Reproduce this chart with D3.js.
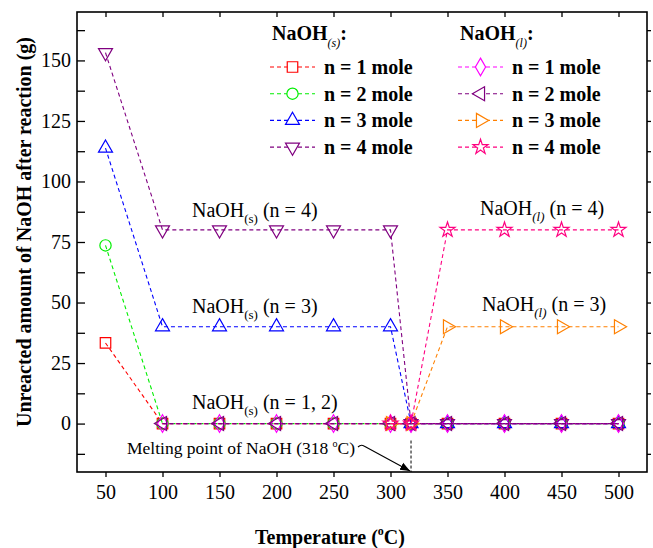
<!DOCTYPE html>
<html>
<head>
<meta charset="utf-8">
<script src="https://cdn.jsdelivr.net/npm/d3@7"></script>
<style>
  body { margin: 0; background: #fff; }
  svg text { font-family: "Liberation Serif", "Times New Roman", serif; }
</style>
</head>
<body>
<svg id="chart" width="653" height="548"></svg>
<script>
const temps = [50, 100, 150, 200, 250, 300, 318, 350, 400, 450, 500];

const solid1 = [33.3, 0, 0, 0, 0, 0, 0, 0, 0, 0, 0];
const solid2 = [73.6, 0, 0, 0, 0, 0, 0, 0, 0, 0, 0];
const solid3 = [113.8, 40, 40, 40, 40, 40, 0, 0, 0, 0, 0];
const solid4 = [153.2, 80, 80, 80, 80, 80, 0, 0, 0, 0, 0];
const liquid1 = [null, 0, 0, 0, 0, 0, 0, 0, 0, 0, 0];
const liquid2 = [null, 0, 0, 0, 0, 0, 0, 0, 0, 0, 0];
const liquid3 = [null, null, null, null, null, 0, 0, 40, 40, 40, 40];
const liquid4 = [null, null, null, null, null, 0, 0, 80, 80, 80, 80];

const legendLabels = ["n = 1 mole", "n = 2 mole", "n = 3 mole", "n = 4 mole"];
const xTicks = [50, 100, 150, 200, 250, 300, 350, 400, 450, 500];
const yTicks = [-12.5, 0, 12.5, 25, 37.5, 50, 62.5, 75, 87.5, 100, 112.5, 125, 137.5, 150, 162.5];
const meltingPoint = 318;

const series = [
  {values: solid1,  color: "#ff0000", shape: d3.symbolSquare,   size: 110, rot: 0},
  {values: solid2,  color: "#00ee00", shape: d3.symbolCircle,   size: 100, rot: 0},
  {values: solid3,  color: "#0000ff", shape: d3.symbolTriangle, size: 85,  rot: 0},
  {values: solid4,  color: "#800080", shape: d3.symbolTriangle, size: 85,  rot: 180},
  {values: liquid1, color: "#ff00ff", shape: d3.symbolDiamond,  size: 90,  rot: 0},
  {values: liquid2, color: "#800080", shape: d3.symbolTriangle, size: 85,  rot: -90},
  {values: liquid3, color: "#ff8000", shape: d3.symbolTriangle, size: 85,  rot: 90},
  {values: liquid4, color: "#ff0080", shape: d3.symbolStar,     size: 70,  rot: 0}
];

const margin = {left: 77, top: 12, right: 6, bottom: 76};
const W = 653, H = 548;

const svg = d3.select("#chart");

let x = d3.scaleLinear().domain([25, 525]).range([margin.left, W - margin.right]);
let y = d3.scaleLinear().domain([-20, 170]).range([H - margin.bottom, margin.top]);

// axes
const gx = svg.append("g")
  .attr("transform", `translate(0,${H - margin.bottom})`)
  .call(d3.axisBottom(x).tickValues(xTicks).tickSize(5).tickPadding(8));
const gxTop = svg.append("g")
  .attr("transform", `translate(0,${margin.top})`)
  .call(d3.axisTop(x).tickValues(xTicks).tickSize(-5).tickFormat(""));
const gy = svg.append("g")
  .attr("transform", `translate(${margin.left},0)`)
  .call(d3.axisLeft(y).tickValues(yTicks).tickSize(-8).tickPadding(6)
    .tickFormat(d => d % 25 === 0 ? d : ""));
const gyRight = svg.append("g")
  .attr("transform", `translate(${W - margin.right},0)`)
  .call(d3.axisRight(y).tickValues(yTicks).tickSize(4).tickFormat(""));

[gx, gxTop, gy, gyRight].forEach(g => {
  g.select(".domain").remove();
  g.selectAll("line").attr("stroke", "#000").attr("stroke-width", 1.3);
  g.selectAll("text").attr("font-size", 20).attr("fill", "#000")
    .style("font-family", "Liberation Serif");
});

svg.append("rect")
  .attr("x", margin.left).attr("y", margin.top)
  .attr("width", W - margin.right - margin.left)
  .attr("height", H - margin.bottom - margin.top)
  .attr("fill", "none").attr("stroke", "#000").attr("stroke-width", 1.6);

// axis titles
const xt = svg.append("text")
  .attr("x", 330).attr("y", 544)
  .attr("text-anchor", "middle")
  .attr("font-size", 20).attr("font-weight", "bold");
xt.append("tspan").text("Temperature (");
xt.append("tspan").text("o").attr("font-size", 12).attr("dy", -9);
xt.append("tspan").text("C)").attr("dy", 9);

svg.append("text")
  .attr("transform", "translate(31,232) rotate(-90)")
  .attr("text-anchor", "middle")
  .attr("font-size", 20).attr("font-weight", "bold")
  .text("Unreacted amount of NaOH after reaction (g)");

// melting point marker
svg.append("line")
  .attr("x1", x(meltingPoint)).attr("x2", x(meltingPoint))
  .attr("y1", y(-7)).attr("y2", y(-20))
  .attr("stroke", "#000").attr("stroke-width", 1).attr("stroke-dasharray", "3,2");

svg.append("defs").append("marker")
  .attr("id", "arrow").attr("viewBox", "0 0 10 10")
  .attr("refX", 10).attr("refY", 5)
  .attr("markerWidth", 9).attr("markerHeight", 9)
  .attr("orient", "auto")
  .append("path").attr("d", "M0,1 L10,5 L0,9 Z").attr("fill", "#000");

svg.append("path")
  .attr("d", `M358,447 q3,-3 6,-1 L${x(meltingPoint) - 1},${y(-20) - 1}`)
  .attr("fill", "none").attr("stroke", "#000").attr("stroke-width", 1.1)
  .attr("marker-end", "url(#arrow)");

const mt = svg.append("text")
  .attr("x", 127).attr("y", 454)
  .attr("font-size", 17.5);
mt.append("tspan").text("Melting point of NaOH (318 ");
mt.append("tspan").text("o").attr("font-size", 10).attr("dy", -7);
mt.append("tspan").text("C)").attr("dy", 7);

// series
const line = d3.line()
  .defined(d => d.v !== null)
  .x(d => x(d.t))
  .y(d => y(d.v));

series.forEach(s => {
  const pts = temps.map((t, i) => ({t: t, v: s.values[i]}));
  svg.append("path")
    .datum(pts)
    .attr("d", line)
    .attr("fill", "none")
    .attr("stroke", s.color)
    .attr("stroke-width", 1.1)
    .attr("stroke-dasharray", "4,3");
  svg.append("g").selectAll("path")
    .data(pts.filter(d => d.v !== null))
    .enter()
    .append("path")
    .attr("d", d3.symbol().type(s.shape).size(s.size))
    .attr("transform", d => `translate(${x(d.t)},${y(d.v)}) rotate(${s.rot})`)
    .attr("fill", "none")
    .attr("stroke", s.color)
    .attr("stroke-width", 1.2);
});

// in-plot labels
function naohLabel(px, py, phase, italic, rest) {
  const t = svg.append("text").attr("x", px).attr("y", py).attr("font-size", 20);
  t.append("tspan").text("NaOH");
  t.append("tspan").text(phase).attr("font-size", 13).attr("dy", 6)
    .attr("font-style", italic ? "italic" : "normal");
  t.append("tspan").text(" " + rest).attr("dy", -6);
}
naohLabel(192, y(80) - 13, "(s)", false, "(n = 4)");
naohLabel(192, y(40) - 14, "(s)", false, "(n = 3)");
naohLabel(192, y(0) - 15, "(s)", false, "(n = 1, 2)");
naohLabel(480, y(80) - 15, "(l)", true, "(n = 4)");
naohLabel(482, y(40) - 16, "(l)", true, "(n = 3)");

// legend
const legendCols = [
  {x: 270, head: "(s)", items: series.slice(0, 4)},
  {x: 458, head: "(l)", items: series.slice(4, 8)}
];
legendCols.forEach(col => {
  const h = svg.append("text").attr("x", col.x + 2).attr("y", 40)
    .attr("font-size", 20).attr("font-weight", "bold");
  h.append("tspan").text("NaOH");
  h.append("tspan").text(col.head).attr("font-size", 12).attr("dy", 7)
    .attr("font-style", "italic").attr("font-weight", "normal");
  h.append("tspan").text(":").attr("dy", -7);

  col.items.forEach((s, i) => {
    const ly = 67 + i * 26.7;
    svg.append("line")
      .attr("x1", col.x).attr("x2", col.x + 45)
      .attr("y1", ly).attr("y2", ly)
      .attr("stroke", s.color).attr("stroke-width", 1.1)
      .attr("stroke-dasharray", "4,3");
    svg.append("path")
      .attr("d", d3.symbol().type(s.shape).size(s.size)())
      .attr("transform", `translate(${col.x + 22.5},${ly}) rotate(${s.rot})`)
      .attr("fill", "#fff").attr("stroke", s.color).attr("stroke-width", 1.2);
    svg.append("text")
      .attr("x", col.x + 54).attr("y", ly + 7)
      .attr("font-size", 20).attr("font-weight", "bold")
      .text(legendLabels[i]);
  });
});
</script>
</body>
</html>
